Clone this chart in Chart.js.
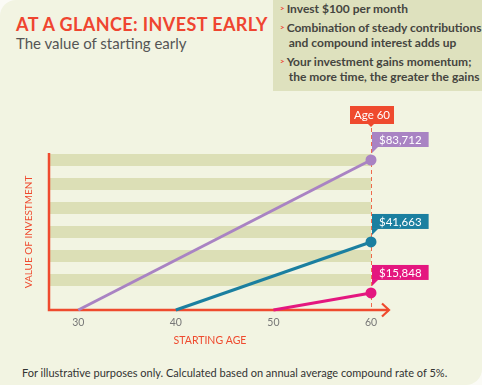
<!DOCTYPE html>
<html>
<head>
  <title>At a glance: invest early</title>
  <script src="https://cdn.jsdelivr.net/npm/chart.js"></script>
  <style>
    html, body {
      margin: 0;
      padding: 0;
      width: 482px;
      height: 385px;
      overflow: hidden;
      background-color: #fbfbf6;
      font-family: Lato, "Open Sans", sans-serif;
    }
    .panel {
      position: absolute;
      left: 0;
      top: 0;
      width: 482px;
      height: 385px;
      background-color: #f2f4e2;
      border-radius: 16px 0 16px 0;
    }
    .title {
      position: absolute;
      left: 16px;
      top: 13px;
      font-size: 18px;
      font-weight: 700;
      letter-spacing: 0.4px;
      color: #ef4530;
      white-space: nowrap;
    }
    .subtitle {
      position: absolute;
      left: 16px;
      top: 34px;
      font-size: 15px;
      color: #555;
      white-space: nowrap;
    }
    .notes {
      position: absolute;
      left: 273px;
      top: 0;
      width: 209px;
      height: 91px;
      background-color: #dee1be;
    }
    .notes p {
      position: absolute;
      left: 7px;
      margin: 0;
      font-size: 12px;
      font-weight: 700;
      line-height: 15px;
      color: #454540;
      white-space: nowrap;
    }
    .notes p span {
      color: #ef4530;
      font-size: 8px;
      margin-right: 2px;
      vertical-align: 2px;
    }
    .footer {
      position: absolute;
      left: 22px;
      top: 366px;
      font-size: 11px;
      color: #333;
      white-space: nowrap;
    }
    #chart {
      position: absolute;
      left: 0;
      top: 0;
    }
  </style>
</head>
<body>
  <div class="panel"></div>
  <div class="title">AT A GLANCE: INVEST EARLY</div>
  <div class="subtitle">The value of starting early</div>
  <div class="notes">
    <p style="top:1px"><span>&gt;</span>Invest $100 per month</p>
    <p style="top:20px"><span>&gt;</span>Combination of steady contributions<br>&nbsp;&nbsp;&nbsp;and compound interest adds up</p>
    <p style="top:54px"><span>&gt;</span>Your investment gains momentum;<br>&nbsp;&nbsp;&nbsp;the more time, the greater the gains</p>
  </div>
  <div class="footer">For illustrative purposes only. Calculated based on annual average compound rate of 5%.</div>
  <canvas id="chart" width="482" height="385"></canvas>
  <script>
    // starting age of each investor, all end at 60
    const startAges = [30, 40, 50];
    const endAge = 60;
    const seriesNames = ['Start at 30', 'Start at 40', 'Start at 50'];
    // value at age 60 (shown in the labels)
    const endValues = [83712, 41663, 15848];
    // height of the line end as drawn in the graphic (not to scale, 13 = top of axis)
    const drawnHeights = [12.5, 5.67, 1.42];
    const ageTicks = [30, 40, 50, 60];
    const colors = ['#a983c3', '#1b7fa0', '#e4177f'];

    const red = '#ef4a2e';

    const datasets = startAges.map((age, i) => ({
      label: seriesNames[i],
      data: [{ x: age, y: 0 }, { x: endAge, y: drawnHeights[i] }],
      borderColor: colors[i],
      backgroundColor: colors[i],
      borderWidth: 3,
      pointRadius: ctx => ctx.dataIndex === 1 ? 4 : 0,
      pointHoverRadius: 0,
      clip: false
    }));

    function box(ctx, x, y, w, h, color, text) {
      ctx.fillStyle = color;
      ctx.fillRect(x, y, w, h);
      ctx.fillStyle = '#fff';
      ctx.font = '11.5px Lato, sans-serif';
      ctx.textAlign = 'center';
      ctx.textBaseline = 'middle';
      ctx.fillText(text, x + w / 2, y + h / 2 + 0.5);
    }

    const decor = {
      id: 'decor',
      beforeDatasetsDraw(chart) {
        const ctx = chart.ctx;
        const xs = chart.scales.x, ys = chart.scales.y;
        const area = chart.chartArea;
        // stripes
        ctx.save();
        ctx.fillStyle = '#dcdfb6';
        for (let v = 2; v < 13; v += 2) {
          const top = ys.getPixelForValue(v + 1);
          const bot = ys.getPixelForValue(v);
          ctx.fillRect(area.left, top, xs.getPixelForValue(endAge) - area.left, bot - top);
        }
        // dashed age 60 line
        const x60 = xs.getPixelForValue(endAge);
        ctx.strokeStyle = '#ef6a4c';
        ctx.lineWidth = 1;
        ctx.setLineDash([4, 3]);
        ctx.beginPath();
        ctx.moveTo(x60 + 0.5, area.top - 26);
        ctx.lineTo(x60 + 0.5, area.bottom);
        ctx.stroke();
        ctx.setLineDash([]);
        // axes
        ctx.strokeStyle = red;
        ctx.lineWidth = 2.5;
        ctx.beginPath();
        ctx.moveTo(area.left, area.top - 1);
        ctx.lineTo(area.left, area.bottom);
        ctx.lineTo(x60 + 18, area.bottom);
        ctx.stroke();
        ctx.lineWidth = 2.2;
        ctx.beginPath();
        ctx.moveTo(x60 + 11, area.bottom - 6.5);
        ctx.lineTo(x60 + 18, area.bottom);
        ctx.lineTo(x60 + 11, area.bottom + 6.5);
        ctx.stroke();
        ctx.restore();
      },
      afterDatasetsDraw(chart) {
        const ctx = chart.ctx;
        const xs = chart.scales.x;
        const x60 = xs.getPixelForValue(endAge);
        const area = chart.chartArea;
        ctx.save();
        // Age 60 tag
        box(ctx, x60 - 21, area.top - 48, 44, 18, red, 'Age ' + endAge);
        ctx.fillStyle = red;
        ctx.beginPath();
        ctx.moveTo(x60 - 3, area.top - 30);
        ctx.lineTo(x60 + 3, area.top - 30);
        ctx.lineTo(x60, area.top - 27);
        ctx.fill();
        // value tags
        startAges.forEach((a, i) => {
          const pt = chart.getDatasetMeta(i).data[1];
          const text = '$' + endValues[i].toLocaleString('en-US');
          ctx.font = '11.5px Lato, sans-serif';
          const w = ctx.measureText(text).width + 14;
          const h = 15;
          const bx = pt.x + 1, by = pt.y - 13 - h;
          box(ctx, bx, by, w, h, colors[i], text);
          ctx.fillStyle = colors[i];
          ctx.beginPath();
          ctx.moveTo(bx, by + h);
          ctx.lineTo(bx + 6, by + h);
          ctx.lineTo(bx, by + h + 6);
          ctx.fill();
        });
        ctx.restore();
      }
    };

    new Chart(document.getElementById('chart'), {
      type: 'line',
      data: { datasets: datasets },
      options: {
        responsive: false,
        animation: false,
        events: [],
        layout: { padding: { left: 16, top: 154, right: 111, bottom: 38 } },
        plugins: { legend: { display: false }, tooltip: { enabled: false } },
        scales: {
          x: {
            type: 'linear',
            min: 27,
            max: 60,
            afterBuildTicks: s => { s.ticks = ageTicks.map(v => ({ value: v })); },
            afterFit: s => { s.height = 37; },
            grid: { display: false, drawTicks: false },
            border: { display: false },
            ticks: { color: '#777', font: { size: 10.5, family: 'Lato' }, padding: 6 },
            title: { display: true, text: 'STARTING AGE', color: red, font: { size: 10.5, family: 'Lato' }, padding: { top: 2, bottom: 0 } }
          },
          y: {
            min: 0,
            max: 13,
            afterFit: s => { s.width = 33; },
            grid: { display: false, drawTicks: false },
            border: { display: false },
            ticks: { display: false },
            title: { display: true, text: 'VALUE OF INVESTMENT', color: red, font: { size: 10, family: 'Lato' }, padding: { top: 7, bottom: 0 } }
          }
        }
      },
      plugins: [decor]
    });
  </script>
</body>
</html>
